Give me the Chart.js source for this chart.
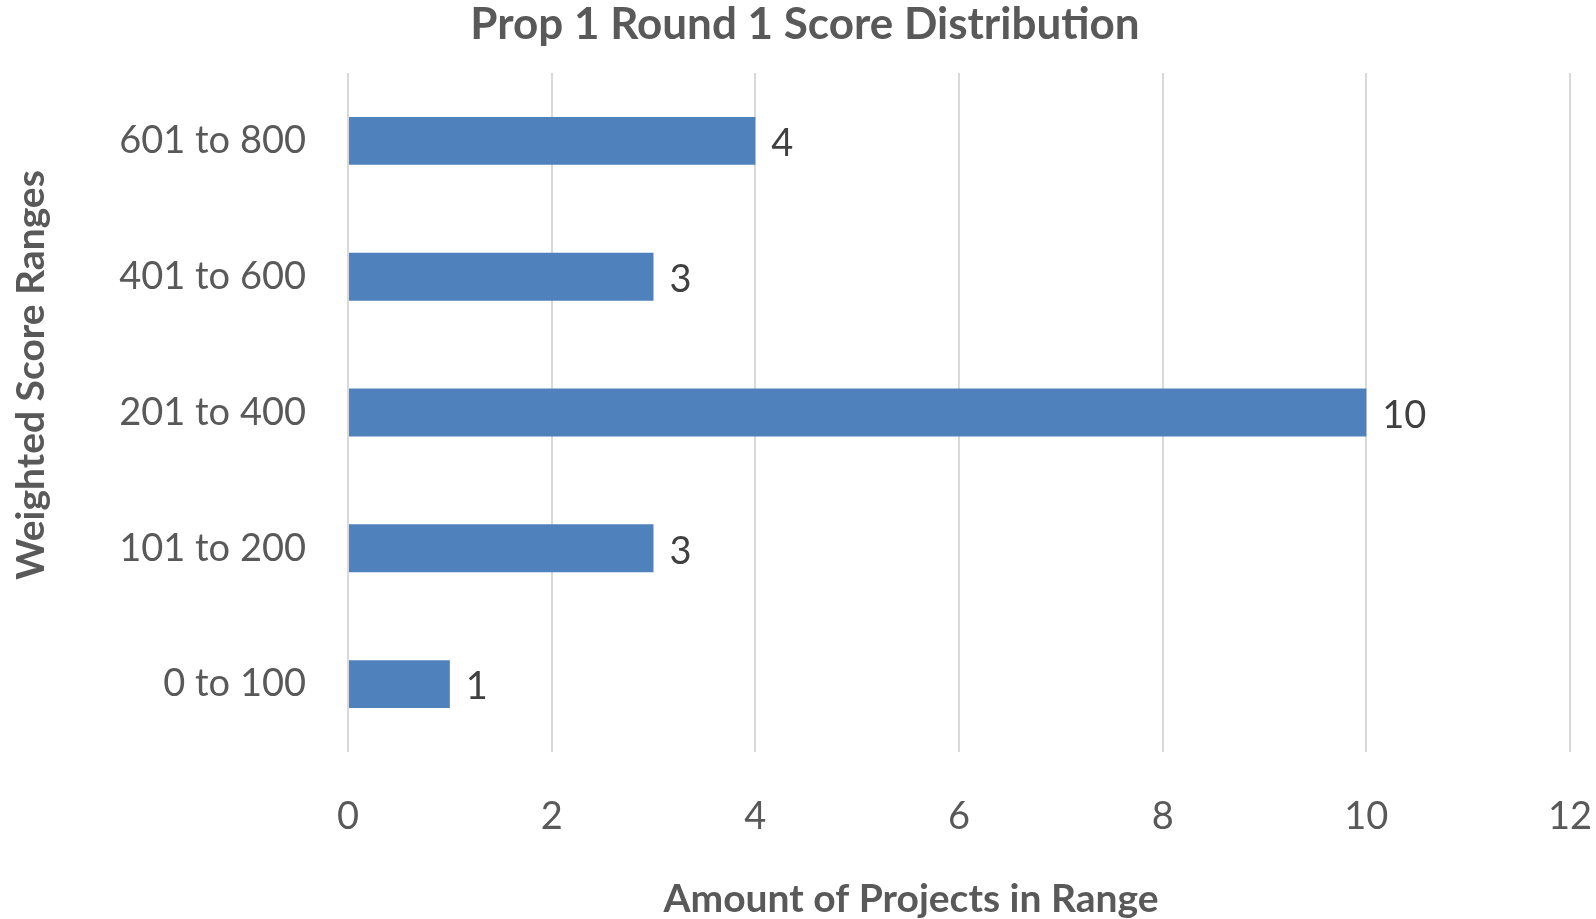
<!DOCTYPE html>
<html>
<head>
<meta charset="utf-8">
<script src="https://cdn.jsdelivr.net/npm/chart.js@4"></script>
<style>
  html, body { margin: 0; padding: 0; background: #fff; }
  #wrap { width: 1596px; height: 919px; }
</style>
</head>
<body>
<div id="wrap"><canvas id="bar-chart" width="1596" height="919"></canvas></div>
<script>
const categories = ["601 to 800", "401 to 600", "201 to 400", "101 to 200", "0 to 100"];
const projectCounts = [4, 3, 10, 3, 1];
const xTicks = [0, 2, 4, 6, 8, 10, 12];

const chartTitle = "Prop 1 Round 1 Score Distribution";
const xTitle = "Amount of Projects in Range";
const yTitle = "Weighted Score Ranges";

const FONT = "Lato, 'Open Sans', sans-serif";

/* titles and value labels, drawn after the chart */
const textPlugin = {
	id: 'textPlugin',
	afterDraw(chart) {
		const ctx = chart.ctx;
		ctx.save();
		ctx.fillStyle = '#595959';
		ctx.textAlign = 'center';
		ctx.textBaseline = 'middle';

		ctx.font = 'bold 44px ' + FONT;
		ctx.fillText(chartTitle, 805, 25);

		ctx.font = 'bold 39px ' + FONT;
		ctx.fillText(xTitle, 911, 899);

		ctx.save();
		ctx.translate(31, 375);
		ctx.rotate(-Math.PI / 2);
		ctx.fillText(yTitle, 0, 0);
		ctx.restore();

		// value labels
		ctx.fillStyle = '#404040';
		ctx.textAlign = 'left';
		ctx.font = '38px ' + FONT;
		const meta = chart.getDatasetMeta(0);
		meta.data.forEach(function (bar, i) {
			ctx.fillText(String(projectCounts[i]), bar.x + 16, bar.y + 3);
		});
		ctx.restore();
	}
};

new Chart(document.getElementById("bar-chart").getContext('2d'), {
	type: 'bar',
	data: {
		labels: categories,
		datasets: [
			{
				label: "Projects",
				data: projectCounts,
				backgroundColor: "#4F81BD",
				barPercentage: 0.353,
				categoryPercentage: 1
			}
		]
	},
	options: {
		indexAxis: 'y',
		responsive: false,
		animation: false,
		layout: { padding: { top: 73, right: 0, bottom: 0, left: 0 } },
		plugins: {
			legend: { display: false },
			title: { display: false },
			tooltip: { enabled: false }
		},
		scales: {
			x: {
				min: 0,
				max: 12,
				afterBuildTicks: function (scale) {
					scale.ticks = xTicks.map(function (v) { return { value: v }; });
				},
				afterFit: function (scale) {
					scale.height = 167;
					scale.paddingRight = 26;
					scale.paddingLeft = 0;
				},
				grid: { color: '#D9D9D9', lineWidth: 2, drawTicks: false },
				border: { display: false },
				ticks: {
					color: '#595959',
					padding: 42,
					font: { family: FONT, size: 38 }
				}
			},
			y: {
				afterFit: function (scale) { scale.width = 348; },
				grid: { display: false },
				border: { display: false },
				ticks: {
					color: '#595959',
					padding: 34,
					font: { family: FONT, size: 38 }
				}
			}
		}
	},
	plugins: [textPlugin]
});
</script>
</body>
</html>
